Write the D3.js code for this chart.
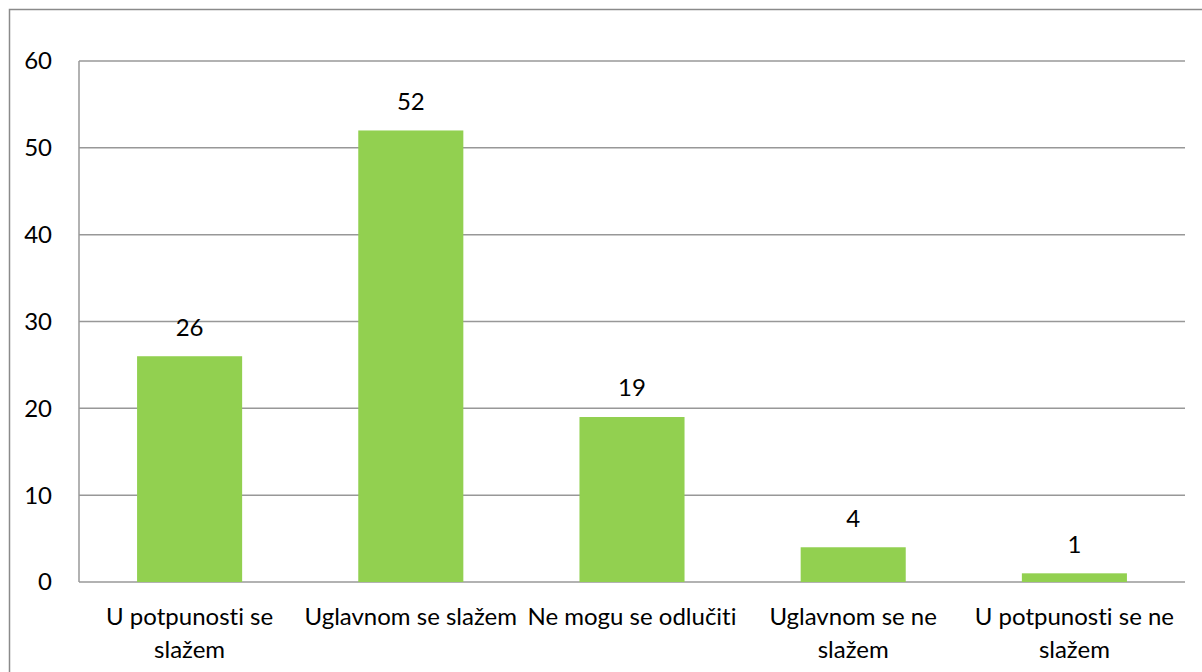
<!DOCTYPE html>
<html>
<head>
<meta charset="utf-8">
<script src="https://cdn.jsdelivr.net/npm/d3@7"></script>
<style>
    body { margin: 0; background: #fff; }
    text { font-family: Lato, "Open Sans", sans-serif; fill: #000; }
</style>
</head>
<body>
<div id="chart"></div>
<script>
// chart data
const categories = [
    ["U potpunosti se", "slažem"],
    ["Uglavnom se slažem"],
    ["Ne mogu se odlučiti"],
    ["Uglavnom se ne", "slažem"],
    ["U potpunosti se ne", "slažem"]
];
const values = [26, 52, 19, 4, 1];
const yTicks = [0, 10, 20, 30, 40, 50, 60];

const width = 1202;
const height = 672;
const margin = { top: 61, right: 17, bottom: 90, left: 79 };
const fontSize = "24px";

const svg = d3.select("#chart")
    .append("svg")
    .attr("width", width)
    .attr("height", height);

// outer frame
svg.append("rect")
    .attr("x", 9.5)
    .attr("y", 9.5)
    .attr("width", width)
    .attr("height", height)
    .attr("fill", "none")
    .attr("stroke", "#8a8a8a")
    .attr("stroke-width", 1.5);

const idx = values.map((d, i) => i);

const xScale = d3.scaleBand()
    .domain(idx)
    .range([margin.left, width - margin.right])
    .paddingInner(0.525)
    .paddingOuter(0.2625);

const yScale = d3.scaleLinear()
    .domain([0, 60])
    .range([height - margin.bottom, margin.top]);

// gridlines
svg.append("g")
    .selectAll("line")
    .data(yTicks)
    .enter()
    .append("line")
    .attr("x1", margin.left)
    .attr("x2", width - margin.right)
    .attr("y1", d => yScale(d))
    .attr("y2", d => yScale(d))
    .attr("stroke", "#989898")
    .attr("stroke-width", 1.5);

// left axis line
svg.append("line")
    .attr("x1", margin.left)
    .attr("x2", margin.left)
    .attr("y1", yScale(60))
    .attr("y2", yScale(0))
    .attr("stroke", "#989898")
    .attr("stroke-width", 1.5);

// y tick labels
svg.append("g")
    .selectAll("text")
    .data(yTicks)
    .enter()
    .append("text")
    .attr("x", 52)
    .attr("y", d => yScale(d))
    .attr("dy", "0.35em")
    .attr("text-anchor", "end")
    .style("font-size", fontSize)
    .text(d => d);

// bars
svg.selectAll(".bar")
    .data(values)
    .enter()
    .append("rect")
    .attr("class", "bar")
    .attr("x", (d, i) => xScale(i))
    .attr("y", d => yScale(d))
    .attr("width", xScale.bandwidth())
    .attr("height", d => yScale(0) - yScale(d))
    .attr("fill", "#92d050");

// value labels
svg.selectAll(".val")
    .data(values)
    .enter()
    .append("text")
    .attr("class", "val")
    .attr("x", (d, i) => xScale(i) + xScale.bandwidth() / 2)
    .attr("y", d => yScale(d) - 29)
    .attr("dy", "0.35em")
    .attr("text-anchor", "middle")
    .style("font-size", fontSize)
    .text(d => d);

// category labels
const cat = svg.selectAll(".cat")
    .data(categories)
    .enter()
    .append("text")
    .attr("class", "cat")
    .attr("text-anchor", "middle")
    .style("font-size", fontSize)
    .style("font-variant-ligatures", "none");

cat.selectAll("tspan")
    .data((d, i) => d.map(line => ({ line, i })))
    .enter()
    .append("tspan")
    .attr("x", d => xScale(d.i) + xScale.bandwidth() / 2)
    .attr("y", (d, j) => 617 + j * 33)
    .attr("dy", "0.35em")
    .text(d => d.line);
</script>
</body>
</html>
